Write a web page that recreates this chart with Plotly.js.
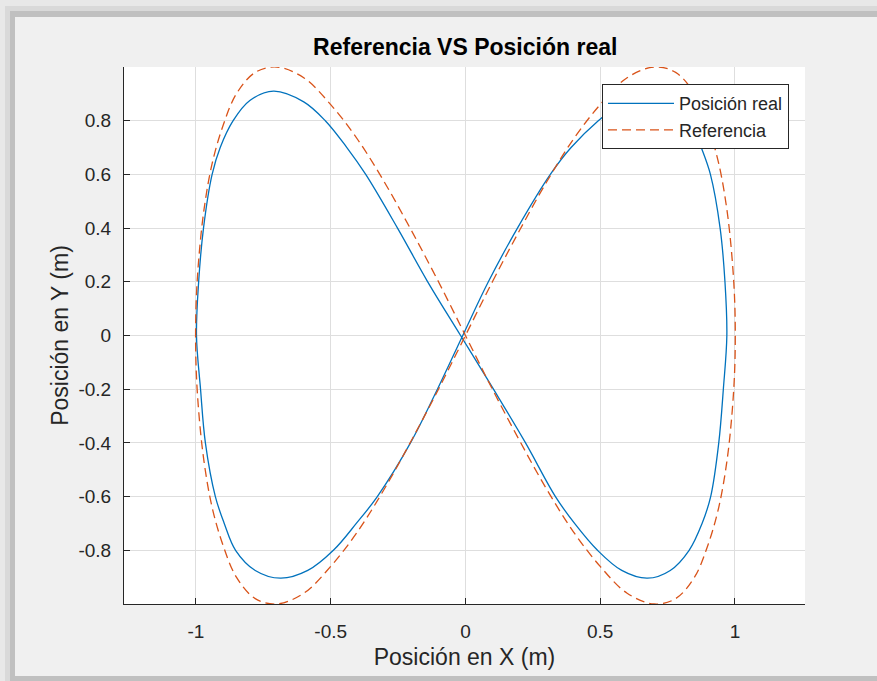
<!DOCTYPE html>
<html>
<head>
<meta charset="utf-8">
<script src="https://cdn.plot.ly/plotly-3.0.1.min.js"></script>
<style>
  html, body { margin:0; padding:0; width:877px; height:681px; overflow:hidden; background:#e8e8e8; }
  .fr { position:absolute; }
  #plot { position:absolute; left:0; top:0; width:877px; height:681px; }
</style>
</head>
<body>
<div class="fr" style="left:5px;top:6px;right:0;bottom:0;background:#d9d9d9;"></div>
<div class="fr" style="left:10px;top:11px;right:0;bottom:0;background:#c0c0c0;"></div>
<div class="fr" style="left:15px;top:17px;right:0;bottom:5px;background:#f0f0f0;"></div>
<div id="plot"></div>
<script>
// Reference trajectory
const refX = [0, 0.1, 0.2, 0.3, 0.4, 0.5, 0.6, 0.7, 0.78, 0.85, 0.9, 0.94, 0.97, 0.99, 1.0, 1.0, 0.99, 0.97, 0.94, 0.9, 0.85, 0.78, 0.7, 0.6, 0.5, 0.4, 0.3, 0.2, 0.1, 0,
              -0.1, -0.2, -0.3, -0.4, -0.5, -0.6, -0.7, -0.78, -0.85, -0.9, -0.94, -0.97, -0.99, -1.0, -1.0, -0.99, -0.97, -0.94, -0.9, -0.85, -0.78, -0.7, -0.6, -0.5, -0.4, -0.3, -0.2, -0.1, 0];
const refY = [0, 0.2, 0.39, 0.57, 0.73, 0.86, 0.96, 1.0, 0.98, 0.9, 0.78, 0.64, 0.47, 0.28, 0.1, -0.1, -0.28, -0.47, -0.64, -0.78, -0.9, -0.98, -1.0, -0.96, -0.86, -0.73, -0.57, -0.39, -0.2, 0,
              0.2, 0.39, 0.57, 0.73, 0.86, 0.96, 1.0, 0.98, 0.9, 0.78, 0.64, 0.47, 0.28, 0.1, -0.1, -0.28, -0.47, -0.64, -0.78, -0.9, -0.98, -1.0, -0.96, -0.86, -0.73, -0.57, -0.39, -0.2, 0];

// Real position
const realX = [-0.01, 0.085, 0.193, 0.315, 0.392, 0.493, 0.59, 0.69, 0.78, 0.835, 0.875, 0.909, 0.945, 0.963, 0.97,
               0.957, 0.94, 0.91, 0.878, 0.83, 0.76, 0.675, 0.58, 0.49, 0.405, 0.334, 0.223, 0.104, -0.018,
               -0.14, -0.252, -0.37, -0.44, -0.52, -0.6, -0.712, -0.8, -0.862, -0.91, -0.94, -0.972, -0.99, -0.998,
               -0.983, -0.965, -0.928, -0.895, -0.853, -0.78, -0.686, -0.585, -0.49, -0.405, -0.327, -0.204, -0.104, -0.01];
const realY = [0, 0.2, 0.4, 0.6, 0.7, 0.8, 0.872, 0.905, 0.875, 0.8, 0.7, 0.6, 0.4, 0.2, 0,
               -0.2, -0.4, -0.6, -0.7, -0.8, -0.875, -0.904, -0.875, -0.8, -0.7, -0.6, -0.4, -0.2, 0,
               0.2, 0.4, 0.6, 0.7, 0.8, 0.87, 0.91, 0.875, 0.8, 0.7, 0.6, 0.4, 0.2, 0,
               -0.2, -0.4, -0.6, -0.7, -0.8, -0.875, -0.904, -0.875, -0.8, -0.7, -0.6, -0.4, -0.2, 0];

const xTicks = [-1, -0.5, 0, 0.5, 1];
const xTickText = ['-1', '-0.5', '0', '0.5', '1'];
const yTicks = [-0.8, -0.6, -0.4, -0.2, 0, 0.2, 0.4, 0.6, 0.8];
const yTickText = ['-0.8', '-0.6', '-0.4', '-0.2', '0', '0.2', '0.4', '0.6', '0.8'];

const FONT = 'Liberation Sans, Arial, Helvetica, sans-serif';
const AX = '#262626';

const traces = [
  { x: realX, y: realY, type: 'scatter', mode: 'lines', name: 'Posición real',
    line: { color: '#0072BD', width: 1.3, shape: 'spline', smoothing: 1 } },
  { x: refX, y: refY, type: 'scatter', mode: 'lines', name: 'Referencia',
    line: { color: '#D95319', width: 1.3, dash: '9px,5px', shape: 'spline', smoothing: 1 } }
];

const layout = {
  width: 877, height: 681,
  margin: { l: 124, r: 72, t: 67, b: 77, pad: 0 },
  paper_bgcolor: 'rgba(0,0,0,0)',
  plot_bgcolor: '#ffffff',
  font: { family: FONT, color: AX, size: 18 },
  title: { text: '<b>Referencia VS Posición real</b>', x: 0.5305, xanchor: 'center', y: 0.931, yanchor: 'middle',
           font: { family: FONT, size: 23, color: '#000000' } },
  xaxis: {
    range: [-1.267, 1.26], tickvals: xTicks, ticktext: xTickText,
    ticks: 'inside', ticklen: 6, tickcolor: AX, tickwidth: 1,
    showline: true, linecolor: AX, linewidth: 1, mirror: false,
    showgrid: true, gridcolor: '#dedede', gridwidth: 1, zeroline: false,
    tickfont: { family: FONT, size: 19, color: AX }, ticklabelstandoff: 10,
    title: { text: 'Posición en X (m)', font: { family: FONT, size: 23, color: AX }, standoff: 8 }
  },
  yaxis: {
    range: [-1, 1], tickvals: yTicks, ticktext: yTickText,
    ticks: 'inside', ticklen: 6, tickcolor: AX, tickwidth: 1,
    showline: true, linecolor: AX, linewidth: 1, mirror: false,
    showgrid: true, gridcolor: '#dedede', gridwidth: 1, zeroline: false,
    tickfont: { family: FONT, size: 19, color: AX }, ticklabelstandoff: 8,
    title: { text: 'Posición en Y (m)', font: { family: FONT, size: 23, color: AX }, standoff: 3 }
  },
  showlegend: true,
  legend: {
    x: 0.9765, xanchor: 'right', y: 0.968, yanchor: 'top',
    bgcolor: '#ffffff', bordercolor: AX, borderwidth: 1,
    font: { family: FONT, size: 18, color: AX },
    itemwidth: 66, tracegroupgap: 0
  }
};

Plotly.newPlot('plot', traces, layout, { staticPlot: true, displayModeBar: false });
</script>
</body>
</html>
